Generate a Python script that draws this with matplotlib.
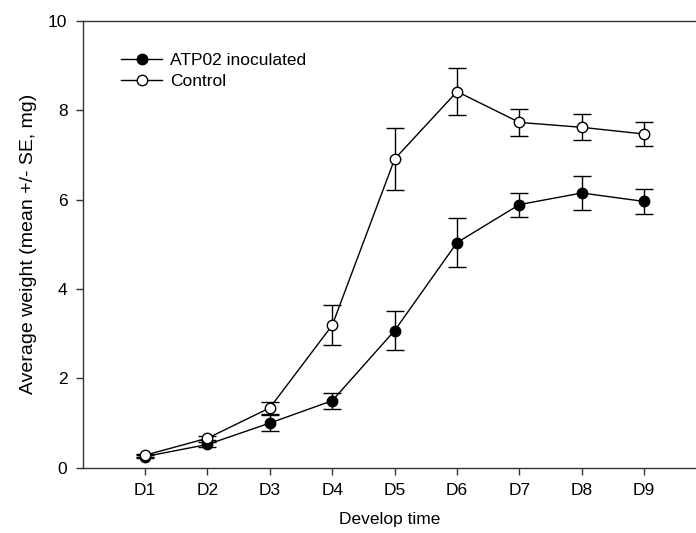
import matplotlib
matplotlib.use('Agg')
import matplotlib.pyplot as plt

# development days
days = ['D1', 'D2', 'D3', 'D4', 'D5', 'D6', 'D7', 'D8', 'D9']
day_pos = [1, 2, 3, 4, 5, 6, 7, 8, 9]

# mean weights (mg) and standard errors
atp02_mean = [0.25, 0.52, 1.00, 1.50, 3.07, 5.04, 5.89, 6.15, 5.96]
atp02_se = [0.03, 0.06, 0.17, 0.18, 0.43, 0.55, 0.27, 0.38, 0.27]
control_mean = [0.28, 0.66, 1.34, 3.19, 6.91, 8.42, 7.73, 7.62, 7.47]
control_se = [0.03, 0.05, 0.13, 0.45, 0.70, 0.53, 0.30, 0.29, 0.27]

yticks = [0, 2, 4, 6, 8, 10]


def main():
    plt.rcParams['font.family'] = ['Liberation Sans', 'DejaVu Sans']

    fig = plt.figure(figsize=(6.96, 5.33), dpi=100, facecolor='w')
    ax = fig.add_axes([0.1188, 0.1225, 0.8812, 0.8381])

    # error bars first, then lines with markers
    ax.errorbar(day_pos, atp02_mean, yerr=atp02_se, fmt='none', ecolor='black',
                elinewidth=1.0, capsize=6.5, capthick=1.0, zorder=2)
    ax.errorbar(day_pos, control_mean, yerr=control_se, fmt='none', ecolor='black',
                elinewidth=1.0, capsize=6.5, capthick=1.0, zorder=4)
    ax.plot(day_pos, atp02_mean, color='black', linewidth=1.0, marker='o',
            markersize=7.5, markerfacecolor='black', markeredgecolor='black',
            label='ATP02 inoculated', zorder=3)
    ax.plot(day_pos, control_mean, color='black', linewidth=1.0, marker='o',
            markersize=7.5, markerfacecolor='white', markeredgecolor='black',
            markeredgewidth=1.0, label='Control', zorder=5)

    ax.set_xlim(0, 9.83)
    ax.set_ylim(0, 10)
    ax.set_xticks(day_pos)
    ax.set_xticklabels(days)
    ax.set_yticks(yticks)

    ax.spines['right'].set_visible(False)
    for side in ['left', 'bottom', 'top']:
        ax.spines[side].set_color('#333333')
        ax.spines[side].set_linewidth(1.0)

    ax.tick_params(axis='both', direction='out', length=5, width=1.0,
                   color='#333333', labelsize=12.5, pad=6)

    # naming the axes
    ax.set_xlabel('Develop time', fontsize=12.5, labelpad=10)
    ax.set_ylabel('Average weight (mean +/- SE, mg)', fontsize=14, labelpad=8)

    ax.legend(loc='upper left', bbox_to_anchor=(0.048, 0.948), frameon=False,
              fontsize=12.5, handlelength=2.4, handletextpad=0.45,
              borderpad=0, labelspacing=0.35)

    fig.savefig('out.png', dpi=100)


if __name__ == '__main__':
    main()
